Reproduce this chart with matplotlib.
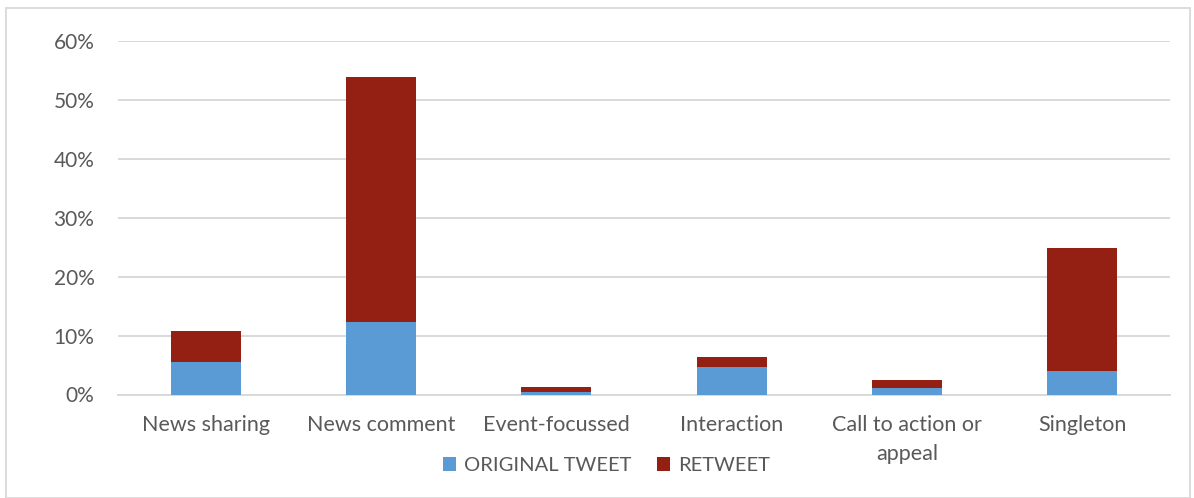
import matplotlib
matplotlib.use("Agg")
import matplotlib.pyplot as plt
from matplotlib.patches import Rectangle
from matplotlib.ticker import PercentFormatter
import numpy as np

categories = ["News sharing", "News comment", "Event-focussed", "Interaction",
              "Call to action or\nappeal", "Singleton"]
original_tweet = [5.6, 12.3, 0.5, 4.6, 1.1, 4.0]
retweet = [5.2, 41.6, 0.8, 1.8, 1.3, 20.9]

BLUE = "#5B9BD5"
RED = "#942013"
INK = "#595959"
GRID = "#D9D9D9"

plt.rcParams["font.family"] = ["Lato", "DejaVu Sans"]

fig = plt.figure(figsize=(11.94, 4.98), dpi=100)
ax = fig.add_axes([118 / 1194, 1 - 394.5 / 498, (1170 - 118) / 1194, (394.5 - 41) / 498])

x = np.arange(len(categories))
ax.bar(x, original_tweet, width=0.4, color=BLUE, label="ORIGINAL TWEET", zorder=3)
ax.bar(x, retweet, width=0.4, bottom=original_tweet, color=RED, label="RETWEET", zorder=3)

ax.set_xlim(-0.5, len(categories) - 0.5)
ax.set_ylim(0, 60)
ax.set_yticks(np.arange(0, 61, 10))
ax.yaxis.set_major_formatter(PercentFormatter(decimals=0))
ax.set_xticks(x)
ax.set_xticklabels(categories, linespacing=1.55)

ax.yaxis.grid(True, color=GRID, linewidth=1.4, zorder=0)
for side in ("top", "right", "left"):
    ax.spines[side].set_visible(False)
ax.spines["bottom"].set_color(GRID)
ax.spines["bottom"].set_linewidth(1.4)
ax.tick_params(axis="y", length=0, pad=17, labelsize=15, labelcolor=INK)
ax.tick_params(axis="x", length=0, pad=15, labelsize=15.5, labelcolor=INK)

fig.legend(loc="center", bbox_to_anchor=(0.508, 0.065), ncol=2, frameon=False,
           fontsize=14.5, labelcolor=INK, handlelength=0.65, handleheight=0.65,
           handletextpad=0.4, columnspacing=1.3)

# light frame around the whole chart
fig.patches.append(Rectangle((6 / 1194, 0.0), 1184 / 1194, 1 - 8 / 498,
                             transform=fig.transFigure, fill=False,
                             edgecolor=GRID, linewidth=1.3))

fig.savefig("out.png", dpi=100)
